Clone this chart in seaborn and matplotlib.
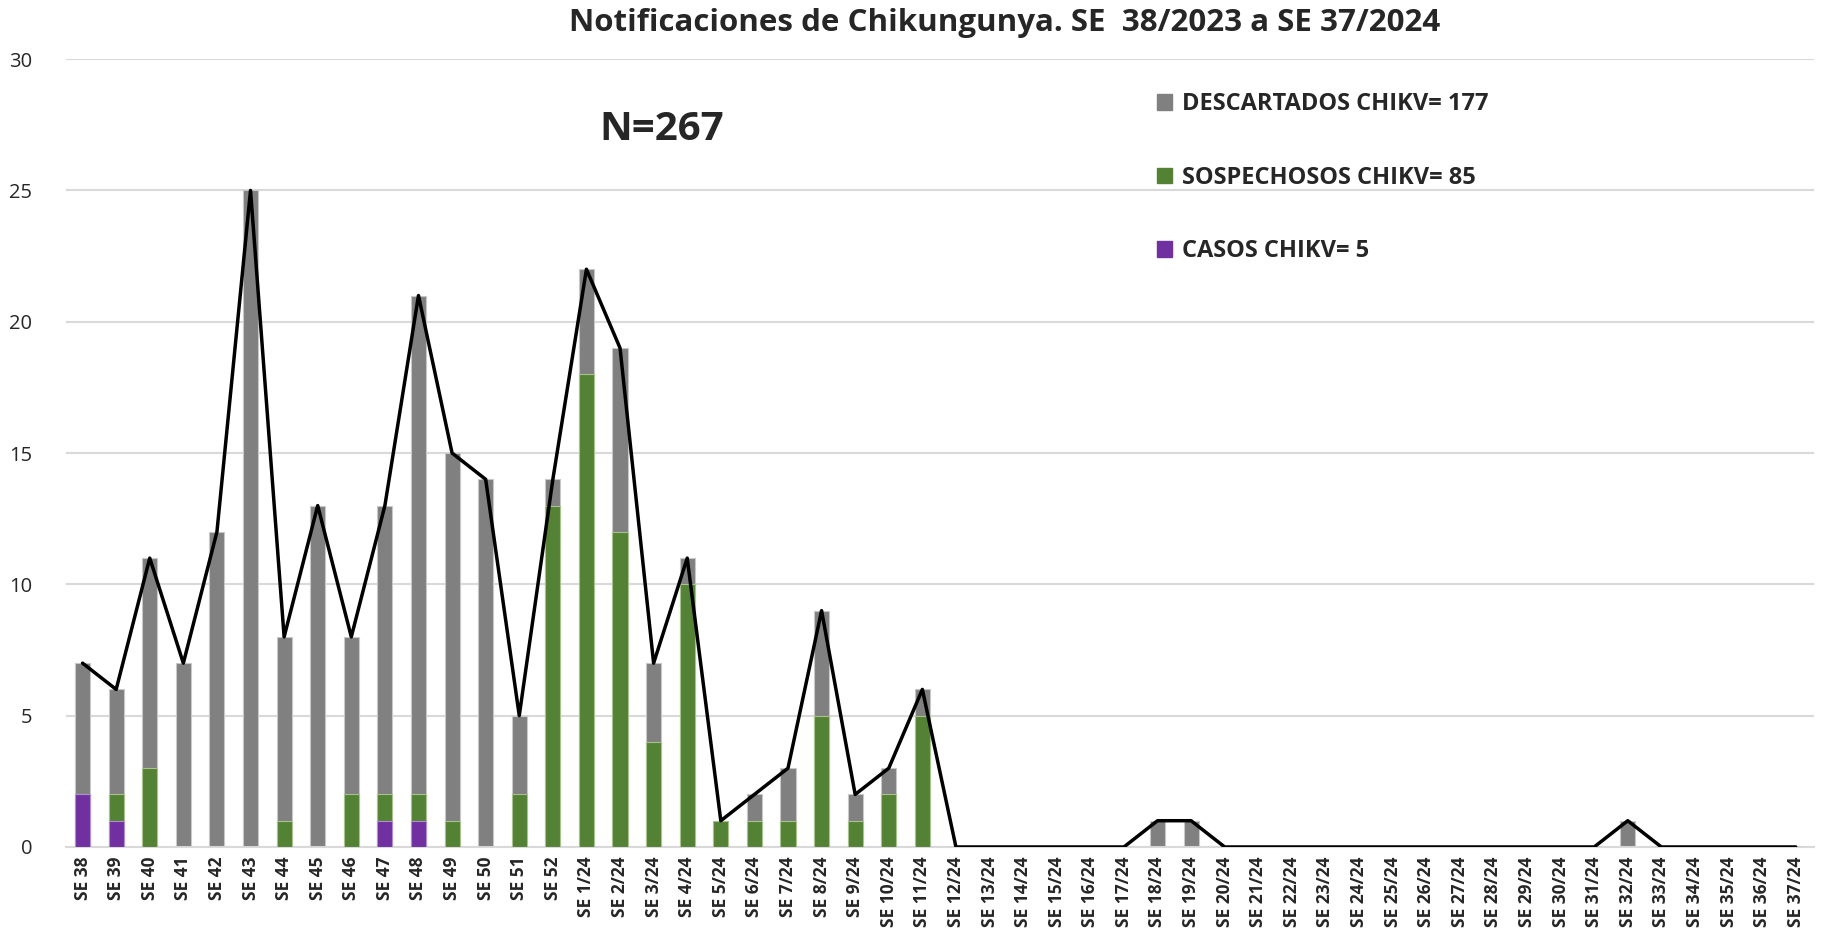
import numpy as np
import pandas as pd
import matplotlib
matplotlib.use("Agg")
import matplotlib.pyplot as plt
import seaborn as sns
from matplotlib.patches import Patch

# -------------------------------
# Data
# -------------------------------
semanas = ["SE 38", "SE 39", "SE 40", "SE 41", "SE 42", "SE 43", "SE 44", "SE 45",
           "SE 46", "SE 47", "SE 48", "SE 49", "SE 50", "SE 51", "SE 52"] + \
          [f"SE {i}/24" for i in range(1, 38)]

# SE 38 .. SE 52, then SE 1/24 .. SE 37/24
casos = [2, 1, 0, 0, 0, 0, 0, 0, 0, 1, 1, 0, 0, 0, 0] + [0] * 37

sospechosos = [0, 1, 3, 0, 0, 0, 1, 0, 2, 1, 1, 1, 0, 2, 13,   # SE 38-52
               18, 12, 4, 10, 1, 1, 1, 5, 1, 2, 5] + [0] * 26   # SE 1/24-37/24

descartados = [5, 4, 8, 7, 12, 25, 7, 13, 6, 11, 19, 14, 14, 3, 1,   # SE 38-52
               4, 7, 3, 1, 0, 1, 2, 4, 1, 1, 1,                       # SE 1/24-11/24
               0, 0, 0, 0, 0, 0,                                      # SE 12/24-17/24
               1, 1,                                                  # SE 18/24-19/24
               0, 0, 0, 0, 0, 0, 0, 0, 0, 0, 0, 0,                    # SE 20/24-31/24
               1,                                                     # SE 32/24
               0, 0, 0, 0, 0]                                         # SE 33/24-37/24

df = pd.DataFrame({"semana": semanas, "casos": casos,
                   "sospechosos": sospechosos, "descartados": descartados})
df["total"] = df["casos"] + df["sospechosos"] + df["descartados"]
df["casos_sosp"] = df["casos"] + df["sospechosos"]

GRIS = "#808080"
VERDE = "#548235"
MORADO = "#7030A0"

# -------------------------------
# Plot
# -------------------------------
sns.set_style("white")
plt.rcParams["font.family"] = ["Open Sans", "DejaVu Sans"]

fig = plt.figure(figsize=(18.27, 9.39), dpi=100)
ax = fig.add_axes([0.036, 0.098, 0.957, 0.839])

bw = 0.45
sns.barplot(data=df, x="semana", y="total", color=GRIS, width=bw, saturation=1,
            edgecolor="#c8c8c8", linewidth=0.8, ax=ax, zorder=2)
sns.barplot(data=df, x="semana", y="casos_sosp", color=VERDE, width=bw, saturation=1,
            edgecolor="#a9c08f", linewidth=0.8, ax=ax, zorder=3)
sns.barplot(data=df, x="semana", y="casos", color=MORADO, width=bw, saturation=1,
            edgecolor="#b08fd0", linewidth=0.8, ax=ax, zorder=4)

# linea de totales
sns.lineplot(x=np.arange(len(df)), y=df["total"].values, color="black",
             linewidth=2.5, ax=ax, zorder=5)

ax.set_ylim(0, 30)
ax.set_xlim(-0.5, len(df) - 0.45)
ax.set_yticks(range(0, 31, 5))
ax.yaxis.grid(True, color="#d9d9d9", linewidth=1.5, zorder=0)
ax.set_axisbelow(True)
for s in ["top", "right", "left"]:
    ax.spines[s].set_visible(False)
ax.spines["bottom"].set_color("#d9d9d9")
ax.spines["bottom"].set_linewidth(1.5)

ax.set_xlabel("")
ax.set_ylabel("")
ax.tick_params(axis="y", labelsize=14.5, length=0, pad=24)
ax.tick_params(axis="x", length=0, pad=7)
ax.set_xticks(range(len(df)))
ax.set_xticklabels(df["semana"], rotation=90, fontsize=12.5, fontweight="bold")

fig.text(0.55, 0.976, "Notificaciones de Chikungunya. SE  38/2023 a SE 37/2024",
         ha="center", va="center", fontsize=22.5, fontweight="bold")
fig.text(0.362, 0.862, "N=267", ha="center", va="center", fontsize=29, fontweight="bold")

handles = [Patch(color=GRIS, label="DESCARTADOS CHIKV= 177"),
           Patch(color=VERDE, label="SOSPECHOSOS CHIKV= 85"),
           Patch(color=MORADO, label="CASOS CHIKV= 5")]
leg = ax.legend(handles=handles, loc="upper left", bbox_to_anchor=(0.612, 0.985),
                frameon=False, prop={"size": 17, "weight": "bold"},
                labelspacing=2.1, handlelength=0.65, handleheight=0.65, handletextpad=0.4)

fig.savefig("out.png", dpi=100)
